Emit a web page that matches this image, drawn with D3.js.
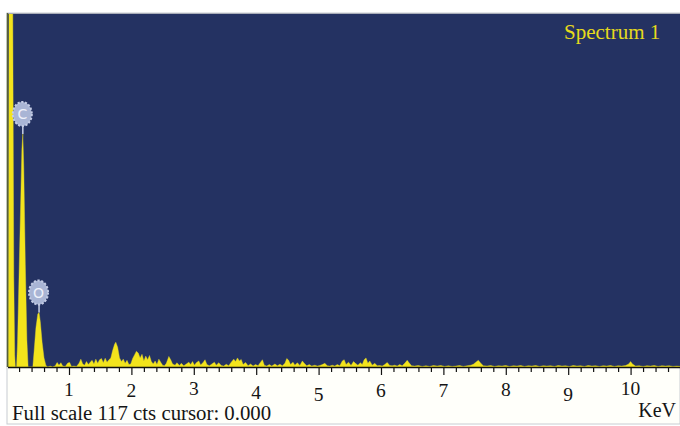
<!DOCTYPE html>
<html>
<head>
<meta charset="utf-8">
<script src="https://cdn.jsdelivr.net/npm/d3@7"></script>
<style>
  html, body { margin: 0; padding: 0; background: #ffffff; }
  svg { display: block; }
</style>
</head>
<body>
<div id="chart"></div>
<script>
// Spectrum values (energy in keV, counts)
const fullScale = 117;
const cursorValue = "0.000";
const spectrumName = "Spectrum 1";
const unitLabel = "KeV";

const elementLabels = ["C", "O"];
const elementEnergies = [0.26, 0.52];

const majorTicks = [1, 2, 3, 4, 5, 6, 7, 8, 9, 10];

// zero peak + C and O peaks
const lightPeaks = [
  [0.03, 0], [0.04, 140], [0.095, 140], [0.115, 30], [0.13, 4], [0.14, 0],
  [0.16, 0], [0.175, 8], [0.21, 40], [0.245, 72], [0.26, 77], [0.275, 66],
  [0.30, 34], [0.325, 9], [0.345, 0], [0.42, 0], [0.44, 5], [0.47, 13],
  [0.50, 17.5], [0.52, 18], [0.54, 15], [0.57, 8], [0.60, 3], [0.63, 0.5], [0.66, 0]
];

// background and minor lines above 0.66 keV
const noise = [
  [0.70, 0.3], [0.74, 0], [0.78, 0.4], [0.81, 1.5], [0.84, 0.6], [0.87, 1.4], [0.90, 0.3],
  [0.94, 0.2], [0.98, 1.3], [1.01, 1.5], [1.04, 0.2], [1.08, 0.3], [1.12, 0.2], [1.16, 1.2],
  [1.19, 2.6], [1.22, 1.0], [1.25, 0.6], [1.28, 1.8], [1.31, 0.8], [1.34, 1.6], [1.37, 2.2],
  [1.40, 1.0], [1.43, 2.6], [1.46, 1.2], [1.49, 2.4], [1.52, 2.8], [1.55, 1.4], [1.58, 2.9],
  [1.61, 1.6], [1.64, 2.4], [1.67, 3.0], [1.70, 5.5], [1.73, 7.5], [1.75, 8.2], [1.78, 6.5],
  [1.81, 3.0], [1.84, 1.8], [1.87, 2.6], [1.90, 1.2], [1.93, 2.2], [1.96, 0.8], [1.99, 1.0],
  [2.02, 2.8], [2.05, 4.0], [2.08, 5.2], [2.11, 4.6], [2.14, 3.0], [2.17, 4.2], [2.20, 2.0],
  [2.23, 3.6], [2.26, 2.4], [2.29, 3.8], [2.32, 1.8], [2.35, 1.0], [2.38, 2.0], [2.41, 0.8],
  [2.44, 2.6], [2.47, 1.6], [2.50, 0.6], [2.53, 0.4], [2.56, 1.2], [2.60, 3.5], [2.63, 2.4],
  [2.66, 1.0], [2.70, 0.6], [2.73, 1.4], [2.77, 0.5], [2.80, 1.2], [2.84, 0.4], [2.88, 1.0],
  [2.92, 1.6], [2.95, 0.8], [2.98, 1.8], [3.01, 0.6], [3.04, 1.4], [3.08, 2.0], [3.11, 0.7],
  [3.15, 1.5], [3.18, 2.4], [3.21, 0.8], [3.25, 0.4], [3.29, 1.0], [3.33, 1.6], [3.36, 0.6],
  [3.40, 1.4], [3.44, 0.5], [3.48, 0.3], [3.52, 0.9], [3.56, 0.4], [3.60, 1.6], [3.64, 2.6],
  [3.67, 1.8], [3.70, 3.0], [3.73, 2.0], [3.76, 2.5], [3.79, 0.8], [3.83, 1.5], [3.87, 0.4],
  [3.91, 1.0], [3.95, 0.3], [3.99, 0.8], [4.03, 0.4], [4.07, 1.6], [4.10, 2.4], [4.13, 0.6],
  [4.17, 0.3], [4.21, 0.8], [4.25, 0.3], [4.30, 1.0], [4.34, 0.4], [4.38, 0.9], [4.42, 0.4],
  [4.46, 1.2], [4.49, 2.8], [4.52, 2.2], [4.55, 0.8], [4.59, 1.6], [4.62, 0.6], [4.66, 1.4],
  [4.70, 0.5], [4.74, 2.0], [4.77, 1.2], [4.81, 0.4], [4.85, 0.8], [4.89, 0.3], [4.94, 0.6],
  [4.98, 0.3], [5.02, 0.5], [5.06, 0.8], [5.10, 1.2], [5.14, 0.4], [5.18, 0.3], [5.22, 0.6],
  [5.26, 0.3], [5.30, 0.8], [5.34, 0.4], [5.38, 2.0], [5.41, 2.4], [5.44, 0.8], [5.48, 1.6],
  [5.52, 0.5], [5.56, 1.8], [5.59, 1.2], [5.63, 0.6], [5.67, 1.4], [5.70, 0.8], [5.73, 2.4],
  [5.76, 3.0], [5.79, 1.2], [5.82, 2.0], [5.86, 0.6], [5.90, 1.2], [5.94, 0.4], [5.98, 0.5],
  [6.02, 0.3], [6.06, 0.8], [6.10, 1.5], [6.14, 0.5], [6.18, 0.4], [6.22, 0.6], [6.26, 0.3],
  [6.30, 0.8], [6.34, 0.4], [6.38, 1.2], [6.42, 2.2], [6.45, 1.4], [6.49, 0.4], [6.54, 0.3],
  [6.60, 0.5], [6.66, 0.2], [6.72, 0.4], [6.78, 0.2], [6.84, 0.5], [6.90, 0.3], [6.96, 0.5],
  [7.02, 0.2], [7.08, 0.4], [7.14, 0.2], [7.20, 0.3], [7.26, 0.5], [7.32, 0.2], [7.38, 0.4],
  [7.44, 0.6], [7.48, 0.9], [7.52, 1.6], [7.56, 2.2], [7.60, 1.2], [7.64, 0.4], [7.70, 0.3],
  [7.76, 0.5], [7.82, 0.2], [7.88, 0.4], [7.94, 0.3], [8.00, 0.5], [8.06, 0.2], [8.12, 0.4],
  [8.18, 0.3], [8.24, 0.5], [8.30, 0.2], [8.36, 0.4], [8.42, 0.3], [8.48, 0.5], [8.54, 0.2],
  [8.60, 0.4], [8.66, 0.3], [8.72, 0.4], [8.78, 0.2], [8.84, 0.5], [8.90, 0.3], [8.96, 0.4],
  [9.02, 0.2], [9.08, 0.5], [9.14, 0.3], [9.20, 0.4], [9.26, 0.2], [9.32, 0.5], [9.38, 0.3],
  [9.44, 0.4], [9.50, 0.2], [9.56, 0.4], [9.62, 0.3], [9.68, 0.5], [9.74, 0.2], [9.80, 0.4],
  [9.86, 0.3], [9.92, 0.5], [9.97, 1.0], [10.00, 1.8], [10.03, 1.0], [10.08, 0.3], [10.14, 0.4],
  [10.20, 0.2], [10.26, 0.4], [10.32, 0.3], [10.38, 0.5], [10.44, 0.2], [10.50, 0.4], [10.56, 0.3],
  [10.62, 0.4], [10.68, 0.2], [10.74, 0.3], [10.80, 0.2]
];

// small vertical offsets of the tick labels as they sit in the scan
const labelShift = [0, 1, -1, 3, 5, 1, 1, 0, 5, -1];

const width = 680;
const height = 426;
const plot = { left: 8, right: 680, top: 13, bottom: 367 };
const serif = "'Liberation Serif', 'DejaVu Serif', serif";

const svg = d3.select("#chart").append("svg").attr("width", width).attr("height", height);

const x = d3.scaleLinear().domain([0, 10.8]).range([6.6, 680.5]);
const y = d3.scaleLinear().domain([0, fullScale]).range([plot.bottom, plot.top]);

// frame and backgrounds
svg.append("rect").attr("x", 7).attr("y", plot.top).attr("width", width - 7).attr("height", 411)
  .attr("fill", "#fffffa").attr("stroke", "#c8ccd2").attr("stroke-width", 1);
svg.append("rect").attr("x", plot.left).attr("y", plot.top)
  .attr("width", plot.right - plot.left).attr("height", plot.bottom - plot.top)
  .attr("fill", "#243262");
svg.append("line").attr("x1", 7).attr("x2", width).attr("y1", plot.top + 0.5).attr("y2", plot.top + 0.5)
  .attr("stroke", "#a9adb8").attr("stroke-width", 1);
svg.append("line").attr("x1", 7.5).attr("x2", 7.5).attr("y1", plot.top).attr("y2", plot.bottom)
  .attr("stroke", "#55603a").attr("stroke-width", 1.5);

// clip to the plot area
svg.append("defs").append("clipPath").attr("id", "plot-clip")
  .append("rect").attr("x", plot.left).attr("y", plot.top + 1)
  .attr("width", plot.right - plot.left).attr("height", plot.bottom - plot.top - 1);

// spectrum
const spectrum = lightPeaks.concat(noise);
const area = d3.area()
  .x((d) => x(d[0]))
  .y0(y(0))
  .y1((d) => y(d[1]));

svg.append("path")
  .datum(spectrum)
  .attr("clip-path", "url(#plot-clip)")
  .attr("d", area)
  .attr("fill", "#f3e41c")
  .attr("stroke", "#e8dc2a")
  .attr("stroke-width", 0.4);

// element markers
elementLabels.forEach((label, i) => {
  const e = elementEnergies[i];
  const peak = d3.max(lightPeaks.filter((d) => Math.abs(d[0] - e) < 0.05), (d) => d[1]);
  const px = x(e);
  const py = y(peak);
  const cy = py - 20;
  const g = svg.append("g");
  g.append("line").attr("x1", px).attr("x2", px).attr("y1", cy + 10).attr("y2", py)
    .attr("stroke", "#c9d1e6").attr("stroke-width", 1.5);
  g.append("ellipse").attr("cx", px - 0.5).attr("cy", cy).attr("rx", 9.5).attr("ry", 12)
    .attr("fill", "#a9b5d5").attr("stroke", "#c3cbe4").attr("stroke-width", 2)
    .attr("stroke-dasharray", "2.2,1.6");
  g.append("text").attr("x", px - 0.5).attr("y", cy + 5).attr("text-anchor", "middle")
    .attr("font-family", "'DejaVu Sans', sans-serif").attr("font-size", 14)
    .attr("fill", "#eef1fa").text(label);
});

// axis with minor and major ticks
const minorTicks = d3.range(1, 54).map((k) => k * 0.2).filter((v) => Math.abs(v - Math.round(v)) > 0.01);

const minorAxis = d3.axisBottom(x).tickValues(minorTicks).tickSize(5).tickSizeOuter(0).tickFormat("");
const majorAxis = d3.axisBottom(x).tickValues(majorTicks).tickSize(8).tickSizeOuter(0).tickFormat("");

const gMinor = svg.append("g").attr("transform", `translate(0,${plot.bottom})`).call(minorAxis);
const gMajor = svg.append("g").attr("transform", `translate(0,${plot.bottom})`).call(majorAxis);
[gMinor, gMajor].forEach((g) => {
  g.select(".domain").remove();
  g.selectAll(".tick line").attr("stroke", "#111").attr("stroke-width", 1.2);
});
svg.append("line").attr("x1", plot.left).attr("x2", plot.right)
  .attr("y1", plot.bottom + 0.5).attr("y2", plot.bottom + 0.5)
  .attr("stroke", "#111").attr("stroke-width", 1.3);

// tick labels
svg.append("g").selectAll("text")
  .data(majorTicks)
  .enter()
  .append("text")
  .attr("x", (d) => x(d))
  .attr("y", (d, i) => 396 + labelShift[i])
  .attr("text-anchor", "middle")
  .attr("font-family", serif)
  .attr("font-size", 19.5)
  .attr("fill", "#151515")
  .text((d) => d);

// texts
svg.append("text").attr("x", 12).attr("y", 420)
  .attr("font-family", serif).attr("font-size", 20.8).attr("fill", "#151515")
  .text(`Full scale ${fullScale} cts cursor: ${cursorValue}`);

svg.append("text").attr("x", 676).attr("y", 417).attr("text-anchor", "end")
  .attr("font-family", serif).attr("font-size", 20).attr("fill", "#151515")
  .text(unitLabel);

svg.append("text").attr("x", 564).attr("y", 39)
  .attr("font-family", serif).attr("font-size", 21).attr("fill", "#e6da1c")
  .text(spectrumName);
</script>
</body>
</html>
